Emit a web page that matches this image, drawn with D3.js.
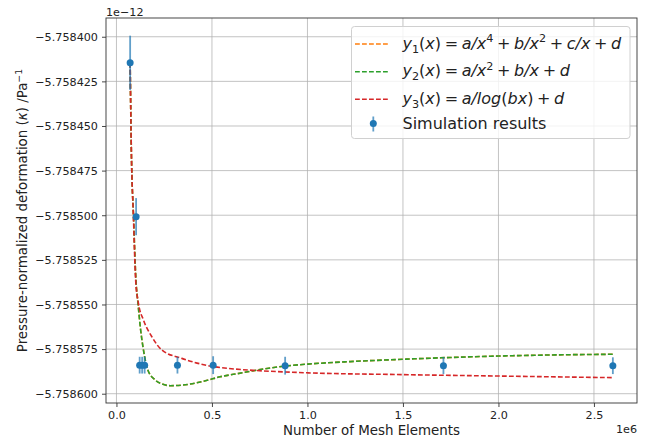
<!DOCTYPE html>
<html><head><meta charset="utf-8">
<script src="https://cdn.jsdelivr.net/npm/d3@7"></script>
<style>
html,body{margin:0;padding:0;background:#fff;}
svg{display:block;font-family:"DejaVu Sans",sans-serif;}
</style></head>
<body><svg id="c" width="648" height="443"></svg>
<script>
// ---- data (kappa values in units of 1e-12 Pa^-1) ----
const meshElements = [71700, 103000, 121500, 134600, 147600, 319400, 506300, 883200, 1712000, 2599000];
const kappa = [-5.7584146, -5.7585008, -5.7585840, -5.7585840, -5.7585840, -5.7585840, -5.7585840, -5.7585843, -5.7585843, -5.7585843];
const kappaErr = [0.0000152, 0.0000104, 0.0000047, 0.0000047, 0.0000047, 0.0000047, 0.0000050, 0.0000050, 0.0000047, 0.0000047];

const fit2X = [71700, 78000, 89500, 102100, 112600, 126700, 141400, 164400, 202600, 239300, 281200, 385900, 481700, 542900, 621500, 717300, 883200, 1002100, 1223600, 1499500, 1747100, 1998400, 2270700, 2599000];
const fit2Y = [-5.7584146, -5.7584635, -5.7585010, -5.7585363, -5.7585492, -5.7585643, -5.7585755, -5.7585867, -5.7585923, -5.7585946, -5.7585955, -5.7585946, -5.7585923, -5.7585905, -5.7585890, -5.7585871, -5.7585845, -5.7585834, -5.7585820, -5.7585807, -5.7585797, -5.7585789, -5.7585783, -5.7585779];
// y1 fit is hidden underneath the y2 fit in the picture
const fit1X = fit2X.slice();
const fit1Y = fit2Y.slice();
const fit3X = [71700, 78000, 89000, 100500, 115200, 141400, 185300, 237700, 342400, 481700, 621500, 715700, 883200, 1002100, 1499500, 1998400, 2599000];
const fit3Y = [-5.7584146, -5.7584635, -5.7585010, -5.7585363, -5.7585494, -5.7585587, -5.7585681, -5.7585755, -5.7585802, -5.7585843, -5.7585862, -5.7585869, -5.7585878, -5.7585883, -5.7585893, -5.7585901, -5.7585910];

const xTicks = [0, 500000, 1000000, 1500000, 2000000, 2500000];
const xTickLabels = ["0.0", "0.5", "1.0", "1.5", "2.0", "2.5"];
const yTicks = [-5.758400, -5.758425, -5.758450, -5.758475, -5.758500, -5.758525, -5.758550, -5.758575, -5.758600];
const yTickLabels = ["\u22125.758400", "\u22125.758425", "\u22125.758450", "\u22125.758475", "\u22125.758500", "\u22125.758525", "\u22125.758550", "\u22125.758575", "\u22125.758600"];

// ---- layout ----
const L = 106, R = 637, T = 18, B = 403;
const svg = d3.select("#c");
const x = d3.scaleLinear().domain([-54700, 2725400]).range([L, R]);
const y = d3.scaleLinear().domain([-5.7586052, -5.7583895]).range([B, T]);

// grid
const g = svg.append("g");
g.selectAll(".gx").data(xTicks).enter().append("line")
  .attr("x1", d => x(d)).attr("x2", d => x(d)).attr("y1", T).attr("y2", B)
  .attr("stroke", "#b0b0b0").attr("stroke-width", 1).attr("opacity", 0.75);
g.selectAll(".gy").data(yTicks).enter().append("line")
  .attr("y1", d => y(d)).attr("y2", d => y(d)).attr("x1", L).attr("x2", R)
  .attr("stroke", "#b0b0b0").attr("stroke-width", 1).attr("opacity", 0.75);

// axes
const xAxis = d3.axisBottom(x).tickValues(xTicks).tickFormat((d, i) => xTickLabels[i]).tickSizeOuter(0).tickSize(4).tickPadding(4);
const yAxis = d3.axisLeft(y).tickValues(yTicks).tickFormat((d, i) => yTickLabels[i]).tickSizeOuter(0).tickSize(4).tickPadding(4);
const gx = svg.append("g").attr("transform", `translate(0,${B})`).call(xAxis);
const gy = svg.append("g").attr("transform", `translate(${L},0)`).call(yAxis);
[gx, gy].forEach(a => {
  a.select(".domain").remove();
  a.selectAll("line").attr("stroke", "#333").attr("stroke-width", 0.9);
  a.selectAll("text").attr("font-family", "DejaVu Sans").attr("font-size", 11.2).attr("fill", "#222");
});
gx.selectAll("text").attr("dy", null).attr("y", 16);
gy.selectAll("text").attr("dy", "0.34em");

// frame
svg.append("rect").attr("x", L).attr("y", T).attr("width", R - L).attr("height", B - T)
  .attr("fill", "none").attr("stroke", "#333").attr("stroke-width", 0.9);

// curves
svg.append("clipPath").attr("id", "clp").append("rect")
  .attr("x", L).attr("y", T).attr("width", R - L).attr("height", B - T);
const line = d3.line().x(d => x(d[0])).y(d => y(d[1])).curve(d3.curveMonotoneX);
const dash = "4.8,2.2";
const curves = [
  {xs: fit1X, ys: fit1Y, color: "#ff7f0e"},
  {xs: fit2X, ys: fit2Y, color: "#2ca02c"},
  {xs: fit3X, ys: fit3Y, color: "#d62728"}
];
const cg = svg.append("g").attr("clip-path", "url(#clp)");
curves.forEach(c => {
  cg.append("path").datum(c.xs.map((v, i) => [v, c.ys[i]]))
    .attr("d", line).attr("fill", "none").attr("stroke", c.color)
    .attr("stroke-width", 1.6).attr("stroke-dasharray", dash);
});

// error bars + points
const pts = meshElements.map((v, i) => ({x: v, y: kappa[i], e: kappaErr[i]}));
const pg = svg.append("g");
pg.selectAll(".eb").data(pts).enter().append("line")
  .attr("x1", d => x(d.x)).attr("x2", d => x(d.x))
  .attr("y1", d => y(d.y - d.e)).attr("y2", d => y(d.y + d.e))
  .attr("stroke", "#1f77b4").attr("stroke-width", 1.8).attr("opacity", 0.7);
pg.selectAll(".pt").data(pts).enter().append("circle")
  .attr("cx", d => x(d.x)).attr("cy", d => y(d.y)).attr("r", 3.5)
  .attr("fill", "#1f77b4");

// axis labels
svg.append("text").attr("x", (L + R) / 2).attr("y", 434.5).attr("text-anchor", "middle")
  .attr("font-size", 13.4).attr("fill", "#222").text("Number of Mesh Elements");
svg.append("text").attr("x", R).attr("y", 432.5).attr("text-anchor", "end")
  .attr("font-size", 11.2).attr("fill", "#222").text("1e6");
svg.append("text").attr("x", L).attr("y", 15.5).attr("text-anchor", "start")
  .attr("font-size", 11.2).attr("fill", "#222").text("1e\u221212");

const yl = svg.append("text").attr("transform", `translate(27,${(T + B) / 2}) rotate(-90)`)
  .attr("text-anchor", "middle").attr("font-size", 13.4).attr("fill", "#222");
yl.append("tspan").text("Pressure-normalized deformation (");
yl.append("tspan").attr("font-style", "italic").text("\u03ba");
yl.append("tspan").text(") /Pa");
yl.append("tspan").attr("font-size", 9.4).attr("dy", -5).text("\u22121");

// legend
const lg = svg.append("g");
lg.append("rect").attr("x", 351.5).attr("y", 26.5).attr("width", 278.5).attr("height", 112)
  .attr("rx", 3).attr("fill", "#fff").attr("fill-opacity", 0.8)
  .attr("stroke", "#d0d0d0").attr("stroke-width", 1);

function mathText(sel, parts, fs) {
  let cur = 0, pendingDx = 0;
  const gap = 3.6;
  parts.forEach(([s, k]) => {
    let target = 0, size = fs, style = "normal";
    if (k === "i") style = "italic";
    if (k === "b") { target = 4; size = fs * 0.7; }
    if (k === "p") { target = -6.5; size = fs * 0.7; }
    const t = sel.append("tspan").attr("font-size", size).attr("font-style", style).text(s);
    let dx = pendingDx;
    pendingDx = 0;
    if (k === "o") { dx += gap; pendingDx = gap; }
    if (dx) t.attr("dx", dx);
    if (target !== cur) { t.attr("dy", target - cur); cur = target; }
  });
}
const legendRows = [
  {color: "#ff7f0e", parts: [["y","i"],["1","b"],["(","r"],["x","i"],[")","r"],["=","o"],["a/x","i"],["4","p"],["+","o"],["b/x","i"],["2","p"],["+","o"],["c/x","i"],["+","o"],["d","i"]]},
  {color: "#2ca02c", parts: [["y","i"],["2","b"],["(","r"],["x","i"],[")","r"],["=","o"],["a/x","i"],["2","p"],["+","o"],["b/x","i"],["+","o"],["d","i"]]},
  {color: "#d62728", parts: [["y","i"],["3","b"],["(","r"],["x","i"],[")","r"],["=","o"],["a/log","i"],["(","r"],["bx","i"],[")","r"],["+","o"],["d","i"]]}
];
const rowY = [44, 71.7, 99.3];
const rowBase = [48.5, 76.2, 103.8];
legendRows.forEach((r, i) => {
  lg.append("line").attr("x1", 355).attr("x2", 390).attr("y1", rowY[i]).attr("y2", rowY[i])
    .attr("stroke", r.color).attr("stroke-width", 1.6).attr("stroke-dasharray", dash);
  const t = lg.append("text").attr("x", 402.5).attr("y", rowBase[i]).attr("font-size", 16).attr("fill", "#222");
  mathText(t, r.parts, 16);
});
lg.append("line").attr("x1", 373.3).attr("x2", 373.3).attr("y1", 116.5).attr("y2", 131.5)
  .attr("stroke", "#1f77b4").attr("stroke-width", 1.8).attr("opacity", 0.7);
lg.append("circle").attr("cx", 373.3).attr("cy", 123.5).attr("r", 3.5).attr("fill", "#1f77b4");
lg.append("text").attr("x", 402.5).attr("y", 129).attr("font-size", 16).attr("fill", "#222").text("Simulation results");
</script></body></html>
